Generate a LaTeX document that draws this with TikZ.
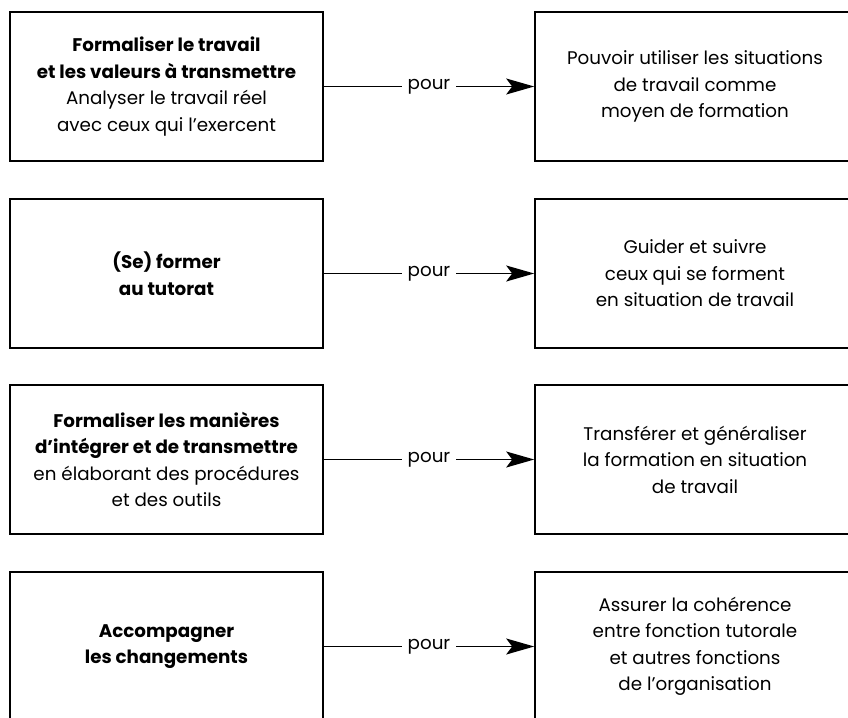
\documentclass[tikz,border=0pt]{standalone}
\usepackage{fontspec}
\setmainfont{Poppins}
\usetikzlibrary{arrows.meta}
\tikzset{
	box/.style={draw,line width=1.6pt,minimum height=149pt,align=center,inner sep=0pt,
		font=\fontsize{18.3}{26.5}\selectfont},
	goal/.style={box,minimum width=313pt},
	aim/.style={box,minimum width=320pt},
	pourline/.style={line width=1.6pt,-{Stealth[length=28pt,width=16pt,inset=6pt]}},
	pourlabel/.style={fill=white,inner xsep=6pt,font=\fontsize{18.3}{26}\selectfont}
}
\begin{document}
\begin{tikzpicture}[x=1pt,y=-1pt]
	\useasboundingbox (0,0) rectangle (848,717);
	\clip (0,0) rectangle (848,717);
		% left column
		\node[goal] (g1) at (166.5,86.5) {\textbf{Formaliser le travail}\\\textbf{et les valeurs à transmettre}\\Analyser le travail réel\\avec ceux qui l’exercent};
		\node[goal] (g2) at (166.5,273.5) {\textbf{(Se) former}\\\textbf{au tutorat}};
		\node[goal] (g3) at (166.5,459.5) {\textbf{Formaliser les manières}\\\textbf{d’intégrer et de transmettre}\\en élaborant des procédures\\et des outils};
		\node[goal] (g4) at (166.5,646.5) {\textbf{Accompagner}\\\textbf{les changements}};
		% right column
		\node[aim] (a1) at (695,86.5) {Pouvoir utiliser les situations\\de travail comme\\moyen de formation};
		\node[aim] (a2) at (695,273.5) {Guider et suivre\\ceux qui se forment\\en situation de travail};
		\node[aim] (a3) at (695,459.5) {Transférer et généraliser\\la formation en situation\\de travail};
		\node[aim] (a4) at (695,646.5) {Assurer la cohérence\\entre fonction tutorale\\et autres fonctions\\de l’organisation};
			% arrows
			\draw[pourline] (g1) -- node[pourlabel]{pour} (a1);
			\draw[pourline] (g2) -- node[pourlabel]{pour} (a2);
			\draw[pourline] (g3) -- node[pourlabel]{pour} (a3);
			\draw[pourline] (g4) -- node[pourlabel]{pour} (a4);
\end{tikzpicture}
\end{document}
